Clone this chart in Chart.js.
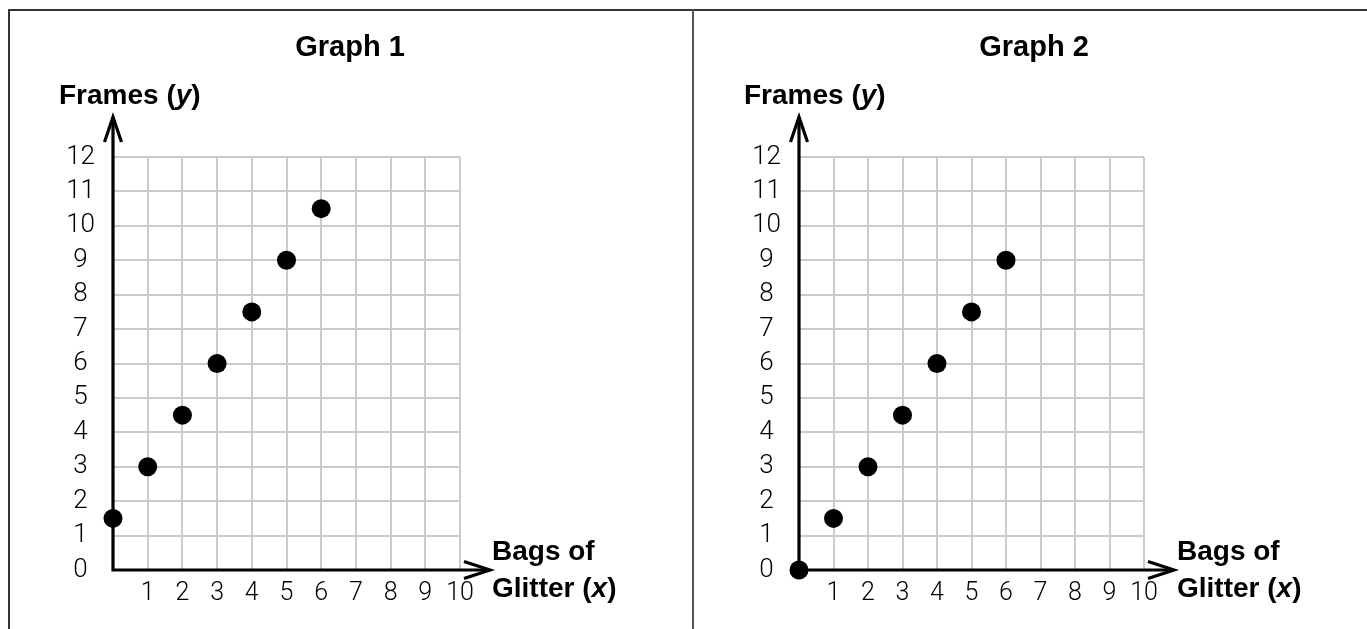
<!DOCTYPE html>
<html>
<head>
<meta charset="utf-8">
<script src="https://cdn.jsdelivr.net/npm/chart.js@4.4.1/dist/chart.umd.min.js"></script>
<style>
  body { margin: 0; background: #fff; width: 1367px; height: 629px; overflow: hidden; position: relative;
         font-family: "Liberation Sans", Arial, sans-serif; }
  .rule { position: absolute; background: #333; }
  canvas { position: absolute; top: 0; }
  .lbl { position: absolute; font-weight: bold; font-size: 28px; line-height: 28px; color: #000; white-space: nowrap; }
  .title { font-size: 29px; transform: translateX(-50%); }
  .xlbl { line-height: 37px; }
</style>
</head>
<body>
<div class="rule" style="left:8px;top:9px;width:1359px;height:2px"></div>
<div class="rule" style="left:8px;top:9px;width:2px;height:620px"></div>
<div class="rule" style="left:692px;top:9px;width:2px;height:620px;background:#555"></div>

<canvas id="graph1" width="693" height="629" style="left:0"></canvas>
<canvas id="graph2" width="674" height="629" style="left:693px"></canvas>

<div class="lbl title" style="left:350px;top:32px">Graph 1</div>
<div class="lbl" style="left:59px;top:81px">Frames (<i>y</i>)</div>
<div class="lbl xlbl" style="left:492px;top:532px">Bags of<br>Glitter (<i>x</i>)</div>

<div class="lbl title" style="left:1034px;top:32px">Graph 2</div>
<div class="lbl" style="left:744px;top:81px">Frames (<i>y</i>)</div>
<div class="lbl xlbl" style="left:1177px;top:532px">Bags of<br>Glitter (<i>x</i>)</div>

<script>
// Data
const bags1 = [0, 1, 2, 3, 4, 5, 6];
const frames1 = [1.5, 3, 4.5, 6, 7.5, 9, 10.5];
const bags2 = [0, 1, 2, 3, 4, 5, 6];
const frames2 = [0, 1.5, 3, 4.5, 6, 7.5, 9];
const xMax = 10;
const yMax = 12;

// Axis lines with open arrow heads, drawn under the points
const axisArrows = {
  id: "axisArrows",
  beforeDatasetsDraw(chart) {
    const { ctx, scales: { x, y } } = chart;
    const x0 = x.getPixelForValue(0);
    const y0 = y.getPixelForValue(0);
    const topTip = y.getPixelForValue(yMax) - 40;
    const rightTip = x.getPixelForValue(xMax) + 30;
    ctx.save();
    ctx.strokeStyle = "#000";
    ctx.lineWidth = 3.2;
    ctx.beginPath();
    ctx.moveTo(x0, y0 + 1.5);
    ctx.lineTo(x0, topTip + 2);
    ctx.moveTo(x0 - 1.5, y0);
    ctx.lineTo(rightTip - 2, y0);
    ctx.stroke();
    ctx.beginPath();
    ctx.moveTo(x0 - 8.5, topTip + 25);
    ctx.lineTo(x0, topTip);
    ctx.lineTo(x0 + 8.5, topTip + 25);
    ctx.moveTo(rightTip - 26, y0 - 8.5);
    ctx.lineTo(rightTip, y0);
    ctx.lineTo(rightTip - 26, y0 + 8.5);
    ctx.stroke();
    ctx.restore();
  }
};

function makeGraph(id, bags, frames, pad) {
  const points = bags.map((b, i) => ({ x: b, y: frames[i] }));
  return new Chart(document.getElementById(id), {
    type: "scatter",
    data: {
      datasets: [{
        data: points,
        pointRadius: 9.5,
        pointBackgroundColor: "#000",
        pointBorderWidth: 0,
        clip: false
      }]
    },
    options: {
      responsive: false,
      animation: false,
      events: [],
      layout: { padding: pad },
      plugins: { legend: { display: false }, tooltip: { enabled: false } },
      scales: {
        x: {
          type: "linear",
          min: 0,
          max: xMax,
          afterFit(scale) { scale.height = 40; },
          border: { display: false },
          grid: { color: "#cbcbcb", lineWidth: 2, drawTicks: false },
          ticks: {
            stepSize: 1,
            padding: 9,
            color: "#000",
            font: { family: "Roboto", size: 25, weight: 300 },
            callback: v => (v === 0 ? "" : v)
          }
        },
        y: {
          type: "linear",
          min: 0,
          max: yMax,
          afterFit(scale) { scale.width = 50; },
          border: { display: false },
          grid: { color: "#cbcbcb", lineWidth: 2, drawTicks: false },
          ticks: {
            stepSize: 1,
            padding: 18,
            crossAlign: "center",
            color: "#000",
            font: { family: "Roboto", size: 26, weight: 300 }
          }
        }
      }
    },
    plugins: [axisArrows]
  });
}

makeGraph("graph1", bags1, frames1, { left: 63, right: 233, top: 157, bottom: 19 });
makeGraph("graph2", bags2, frames2, { left: 56, right: 223, top: 157, bottom: 19 });
</script>
</body>
</html>
